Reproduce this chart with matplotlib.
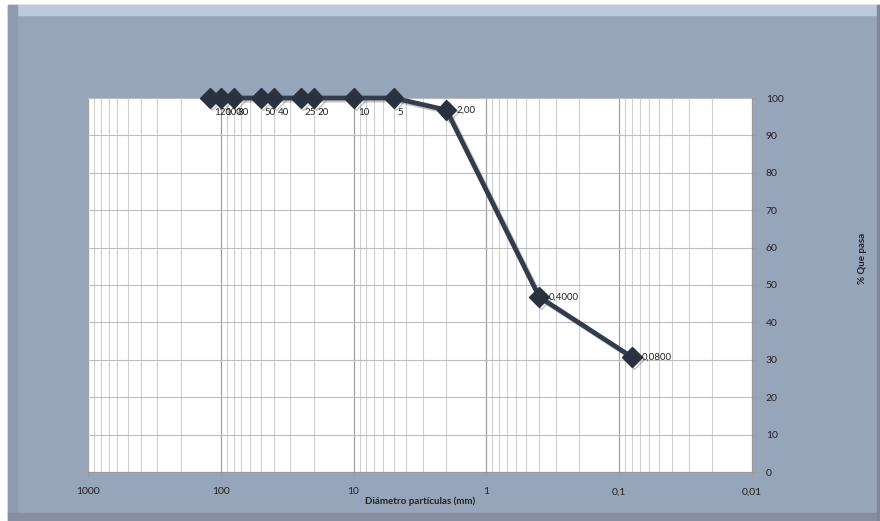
import matplotlib.pyplot as plt
import matplotlib.patches as mpatches
import matplotlib.patheffects as pe
from matplotlib.ticker import FixedLocator, LogLocator, NullFormatter

plt.rcParams['font.family'] = ['Lato', 'DejaVu Sans']

# datos de la curva granulometrica
diametros = [120, 100, 80, 50, 40, 25, 20, 10, 5, 2.0, 0.4, 0.08]
pasa = [100, 100, 100, 100, 100, 100, 100, 100, 100, 96.8, 46.8, 30.7]
etiquetas = ['120', '100', '80', '50', '40', '25', '20', '10', '5', '2,00', '0,4000', '0,0800']

x_ticks = [1000, 100, 10, 1, 0.1, 0.01]
x_tick_labels = ['1000', '100', '10', '1', '0,1', '0,01']
y_ticks = [0, 10, 20, 30, 40, 50, 60, 70, 80, 90, 100]

fondo = '#97a5bb'
fig = plt.figure(figsize=(8.8, 5.21), dpi=100)
fig.patch.set_facecolor('white')

# marco tipo Excel (bisel)
W, H = 880, 521
def rect(x0, y0, x1, y1, color):
    fig.patches.append(mpatches.Rectangle((x0 / W, 1 - y1 / H), (x1 - x0) / W, (y1 - y0) / H,
                                          transform=fig.transFigure, color=color, zorder=-5))
rect(8, 5, 880, 521, fondo)
rect(8, 5, 880, 15, '#bccade')
rect(8, 5, 17, 515, '#8e9bb1')
rect(8, 513, 880, 521, '#868ea0')
rect(877, 5, 880, 521, '#7f889b')

ax = fig.add_axes([88 / W, 1 - 472 / H, (752 - 88) / W, (472 - 98) / H])
ax.set_facecolor('white')
ax.set_xscale('log')
ax.set_xlim(1000, 0.01)
ax.set_ylim(0, 100)

ax.xaxis.set_major_locator(FixedLocator(x_ticks))
ax.set_xticks(x_ticks)
ax.set_xticklabels(x_tick_labels)
ax.xaxis.set_minor_locator(LogLocator(base=10, subs=range(2, 10), numticks=20))
ax.xaxis.set_minor_formatter(NullFormatter())
ax.set_yticks(y_ticks)
ax.yaxis.tick_right()
ax.yaxis.set_label_position('right')

ax.grid(True, which='major', axis='x', color='#a0a0a0', linewidth=0.9)
ax.grid(True, which='minor', axis='x', color='#cfcfcf', linewidth=0.8)
ax.grid(True, which='major', axis='y', color='#bdbdbd', linewidth=0.8)
ax.set_axisbelow(True)

for lado in ['top', 'left']:
    ax.spines[lado].set_visible(False)
for lado in ['bottom', 'right']:
    ax.spines[lado].set_color('#9a9a9a')
ax.tick_params(axis='both', which='major', labelsize=7.5, colors='#9a9a9a',
               labelcolor='#222222', length=3, pad=8)
ax.tick_params(axis='x', which='minor', length=0)
ax.tick_params(axis='y', pad=7)

sombra = [pe.SimpleLineShadow(offset=(1.5, -1.5), shadow_color='#555555', alpha=0.35), pe.Normal()]
ax.plot(diametros, pasa, color='#323c4d', linewidth=3.4, marker='D', markersize=10,
        markerfacecolor='#2b323f', markeredgecolor='#2b323f', clip_on=False, zorder=5,
        path_effects=sombra)

for x, y, t in zip(diametros, pasa, etiquetas):
    if y >= 100:
        ax.annotate(t, (x, y), xytext=(3, -12), textcoords='offset points',
                    fontsize=7, color='#222222', zorder=6)
    else:
        ax.annotate(t, (x, y), xytext=(7, 0), textcoords='offset points',
                    fontsize=7, color='#222222', va='center', zorder=6)

ax.set_xlabel('Diámetro partículas (mm)', fontsize=7, fontweight='bold', color='#222222', labelpad=0)
fig.text(862 / W, 1 - 258 / H, '% Que pasa', rotation=90, fontsize=7, fontweight='bold',
         color='#222222', ha='center', va='center')

fig.savefig('out.png', dpi=100, facecolor=fig.get_facecolor())
